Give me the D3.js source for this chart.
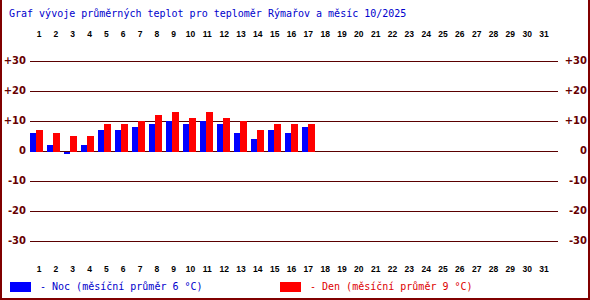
<!DOCTYPE html>
<html><head><meta charset="utf-8">
<script src="https://cdn.jsdelivr.net/npm/d3@7"></script>
<style>html,body{margin:0;padding:0;background:#fff;}svg{display:block;}</style>
</head><body>
<script>
const title = "Graf vývoje průměrných teplot pro teploměr Rýmařov a měsíc 10/2025";
const days = d3.range(1, 32);
const nocValues = [6, 2, -1, 2, 7, 7, 8, 9, 10, 9, 10, 9, 6, 4, 7, 6, 8];
const denValues = [7, 6, 5, 5, 9, 9, 10, 12, 13, 11, 13, 11, 10, 7, 9, 9, 9];
const yTicks = [30, 20, 10, 0, -10, -20, -30];
const yTickLabels = ["+30", "+20", "+10", "0", "-10", "-20", "-30"];
const legendNoc = "- Noc (měsíční průměr 6 °C)";
const legendDen = "- Den (měsíční průměr 9 °C)";

const W = 590, H = 300;
const svg = d3.select("body").append("svg").attr("width", W).attr("height", H);
svg.append("rect").attr("width", W).attr("height", H).attr("fill", "#fff");

const x = d3.scaleBand().domain(days).range([30, 557]).padding(0);
const xl = d3.scaleLinear().domain([1, 31]).range([39, 544]);
const y = d3.scaleLinear().domain([-30, 30]).range([240.5, 60.5]);
const gridColor = "#5a0000";
const labelColor = "#660000";

// title
svg.append("text").attr("x", 9).attr("y", 17).text(title)
  .attr("font-family", "DejaVu Sans Mono").attr("font-size", 10).attr("fill", "#0000cc");

// grid lines
svg.append("g").selectAll("line").data(yTicks).join("line")
  .attr("x1", 30).attr("x2", 558)
  .attr("y1", d => Math.round(y(d)) + 0.5).attr("y2", d => Math.round(y(d)) + 0.5)
  .attr("stroke", gridColor).attr("stroke-width", 1);

// y labels
const yl = svg.append("g").attr("font-family", "DejaVu Sans").attr("font-weight", "bold")
  .attr("font-size", 10).attr("fill", labelColor).attr("text-anchor", "end");
yl.selectAll("text.l").data(yTicks).join("text").attr("class", "l")
  .attr("x", 26).attr("y", d => y(d) + 3.7).text((d, i) => yTickLabels[i]);
yl.selectAll("text.r").data(yTicks).join("text").attr("class", "r")
  .attr("x", 587).attr("y", d => y(d) + 3.7).text((d, i) => yTickLabels[i]);

// bars
const y0 = Math.round(y(0)) + 1;
svg.append("g").selectAll("rect").data(nocValues).join("rect")
  .attr("x", (d, i) => x(days[i]))
  .attr("width", 6)
  .attr("y", d => d >= 0 ? Math.round(y(d)) : y0)
  .attr("height", d => Math.abs(Math.round(y(d)) - y0))
  .attr("fill", "#0000ff");
svg.append("g").selectAll("rect").data(denValues).join("rect")
  .attr("x", (d, i) => x(days[i]) + 6)
  .attr("width", 7)
  .attr("y", d => d >= 0 ? Math.round(y(d)) : y0)
  .attr("height", d => Math.abs(Math.round(y(d)) - y0))
  .attr("fill", "#ff0000");

// day labels
const dl = svg.append("g").attr("font-family", "Liberation Sans").attr("font-weight", "bold")
  .attr("font-size", 8.5).attr("fill", "#000").attr("text-anchor", "middle");
dl.selectAll("text.t").data(days).join("text").attr("class", "t")
  .attr("x", d => xl(d)).attr("y", 37).text(d => d);
dl.selectAll("text.b").data(days).join("text").attr("class", "b")
  .attr("x", d => xl(d)).attr("y", 272).text(d => d);

// legend
svg.append("rect").attr("x", 10).attr("y", 282).attr("width", 21).attr("height", 10).attr("fill", "#0000ff");
svg.append("text").attr("x", 40).attr("y", 290).text(legendNoc)
  .attr("font-family", "DejaVu Sans Mono").attr("font-size", 10).attr("fill", "#0000cc");
svg.append("rect").attr("x", 280).attr("y", 282).attr("width", 21).attr("height", 10).attr("fill", "#ff0000");
svg.append("text").attr("x", 310).attr("y", 290).text(legendDen)
  .attr("font-family", "DejaVu Sans Mono").attr("font-size", 10).attr("fill", "#dd0000");

// border
svg.append("path").attr("d", "M1,0 V299 H589 V0").attr("fill", "none")
  .attr("stroke", "#800000").attr("stroke-width", 2);
</script>
</body></html>
